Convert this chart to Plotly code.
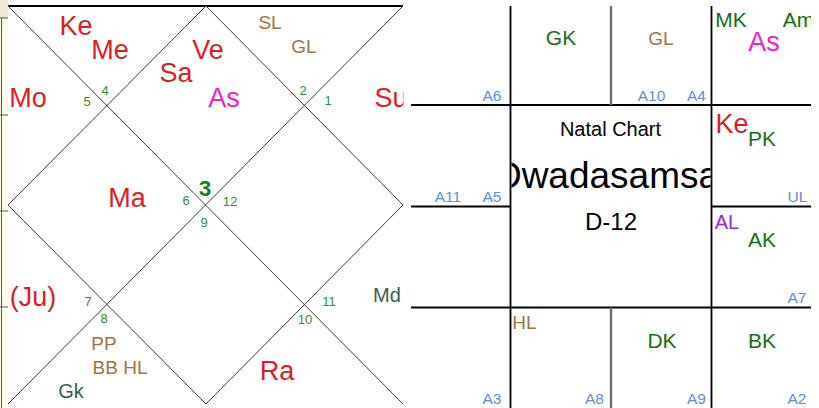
import plotly.graph_objects as go

# ---------------- data ----------------
# North-Indian diamond chart: sign numbers shown in houses 1..12
house_signs = [3, 4, 5, 6, 7, 8, 9, 10, 11, 12, 1, 2]

# bodies shown in the diamond chart, with their category
north_labels = ["Ke", "Me", "Sa", "Ve", "As", "Mo", "Su", "Ma", "(Ju)", "Ra",
                "SL", "GL", "PP", "BB HL", "Gk", "Md"]
north_kinds = ["planet", "planet", "planet", "planet", "lagna", "planet", "planet",
               "planet", "planet", "planet", "special", "special", "special",
               "special", "upagraha", "upagraha"]

# South-Indian grid chart contents
south_labels = ["GK", "GL", "MK", "Am", "As", "Ke", "PK", "AL", "AK", "DK", "BK", "HL"]
south_kinds = ["karaka", "special", "karaka", "karaka", "lagna", "planet", "karaka",
               "arudha_l", "karaka", "karaka", "karaka", "special"]
arudha_labels = ["A6", "A10", "A4", "A11", "A5", "UL", "A7", "A3", "A8", "A9", "A2"]

center_title = "Natal Chart"
center_name = "Dwadasamsa"
center_division = "D-12"

# ---------------- layout / style ----------------
W, H = 819, 408
FONT = "Liberation Sans, Arial, sans-serif"

kind_color = {
    "planet": "#dc1e23",
    "lagna": "#ee22cc",
    "special": "#9c7444",
    "upagraha": "#35614f",
    "karaka": "#157015",
    "arudha_l": "#9626ee",
}
kind_size = {
    "planet": 27, "lagna": 27, "special": 19, "upagraha": 20,
    "karaka": 21, "arudha_l": 20,
}

north_pos = [(76, 28), (110, 52), (176, 75), (208, 52), (224, 100), (28, 100),
             (391, 100), (127, 200), (33, 299), (277, 373), (270, 24), (304, 48),
             (104, 345), (120, 369), (71, 393), (387, 296.5)]
house_num_pos = [(205, 190), (105, 92), (87, 103), (186, 202), (88, 303), (104, 320),
                 (204, 224), (305, 321), (329, 303), (230, 203), (328, 102), (303, 92)]
south_pos = [(561, 40), (661, 40), (731, 22), (798.5, 22), (764, 44), (732, 126),
             (762, 141), (727, 224), (762, 242), (662, 343), (762, 343), (524.5, 324)]
arudha_pos = [(492, 97), (651.5, 97), (696.5, 97), (448, 198), (492, 198), (797.5, 198),
              (797, 299), (492, 400.5), (594.5, 400.5), (696.5, 400.5), (797, 400.5)]

fig = go.Figure()


def add_text(labels, pos, sizes, colors, ax):
    fig.add_trace(go.Scatter(
        x=[p[0] for p in pos], y=[p[1] for p in pos], mode="text", text=labels,
        textposition="middle center",
        textfont=dict(family=FONT, size=sizes, color=colors),
        hoverinfo="skip", cliponaxis=True, showlegend=False,
        xaxis="x" + ax, yaxis="y" + ax))


# invisible anchor for the base axes
fig.add_trace(go.Scatter(x=[0, W], y=[0, H], mode="markers", marker=dict(opacity=0),
                         hoverinfo="skip", showlegend=False))

# North chart text (clipped to the chart width)
add_text(north_labels, north_pos, [kind_size[k] for k in north_kinds],
         [kind_color[k] for k in north_kinds], "2")
num_text = ["<b>%d</b>" % s if i == 0 else str(s) for i, s in enumerate(house_signs)]
num_sizes = [22 if i == 0 else 13 for i in range(12)]
num_colors = ["#1a7a1a" if i == 0 else "#2f8f2f" for i in range(12)]
add_text(num_text, house_num_pos, num_sizes, num_colors, "2")

# South chart text
add_text(south_labels, south_pos, [kind_size[k] for k in south_kinds],
         [kind_color[k] for k in south_kinds], "3")
add_text(arudha_labels, arudha_pos, 15.5, "#5a8fdc", "3")

# Center box text (clipped to the center box)
add_text([center_title, center_name, center_division],
         [(610.5, 131), (607, 179), (611, 224)], [20, 37, 24],
         ["#000000"] * 3, "4")

shapes = []


def line(x0, y0, x1, y1, color="#000000", width=1.8):
    shapes.append(dict(type="line", xref="x", yref="y", x0=x0, y0=y0, x1=x1, y1=y1,
                       line=dict(color=color, width=width), layer="below"))


def rect(x0, y0, x1, y1, fill):
    shapes.append(dict(type="rect", xref="x", yref="y", x0=x0, y0=y0, x1=x1, y1=y1,
                       fillcolor=fill, line=dict(width=0), layer="below"))


# left window strip
rect(0, 0, 8, 18, "#ece9d8")
rect(0, 18, 8, H, "#fffde8")
line(1.5, 18, 1.5, H, "#555555", 1)
for yy in (18, 115, 211, 307):
    line(0, yy, 8, yy, "#555555", 1)

# North chart
L, R, T, B = 8, 403, 6, 404
CX, CY = 206, 205
line(L, T, R, T, "#000000", 2)
line(L, T, R, B, "#3a3a3a", 1)
line(R, T, L, B, "#3a3a3a", 1)
line(CX, T, L, CY, "#3a3a3a", 1)
line(L, CY, CX, B, "#3a3a3a", 1)
line(CX, B, R, CY, "#3a3a3a", 1)
line(R, CY, CX, T, "#3a3a3a", 1)

# South chart grid
gx = [411, 510.5, 611, 711.5, 811]
gy = [6, 105, 206.5, 307.5, 408]
line(gx[0], gy[1], gx[4], gy[1])
line(gx[0], gy[3], gx[4], gy[3])
line(gx[0], gy[2], gx[1], gy[2])
line(gx[3], gy[2], gx[4], gy[2])
line(gx[1], gy[0], gx[1], gy[4])
line(gx[3], gy[0], gx[3], gy[4])
line(gx[2], gy[0], gx[2], gy[1], "#6e6e6e", 2.4)
line(gx[2], gy[3], gx[2], gy[4], "#6e6e6e", 2.4)

ax_common = dict(visible=False, showgrid=False, zeroline=False, fixedrange=True)
fig.update_layout(
    width=W, height=H, margin=dict(l=0, r=0, t=0, b=0),
    paper_bgcolor="white", plot_bgcolor="rgba(0,0,0,0)", showlegend=False,
    shapes=shapes,
    xaxis=dict(domain=[0, 1], range=[0, W], **ax_common),
    yaxis=dict(domain=[0, 1], range=[H, 0], **ax_common),
    xaxis2=dict(domain=[0, 403.5 / W], range=[0, 403.5], anchor="y2", **ax_common),
    yaxis2=dict(domain=[0, 1], range=[H, 0], anchor="x2", **ax_common),
    xaxis3=dict(domain=[0, 811 / W], range=[0, 811], anchor="y3", **ax_common),
    yaxis3=dict(domain=[0, 1], range=[H, 0], anchor="x3", **ax_common),
    xaxis4=dict(domain=[511.5 / W, 710.5 / W], range=[511.5, 710.5], anchor="y4", **ax_common),
    yaxis4=dict(domain=[1 - 306.5 / H, 1 - 106 / H], range=[306.5, 106], anchor="x4", **ax_common),
)

fig.write_html(
    "out.html",
    config={"displayModeBar": False, "staticPlot": True},
    post_script="document.body.style.margin='0';document.body.style.overflow='hidden';",
)
